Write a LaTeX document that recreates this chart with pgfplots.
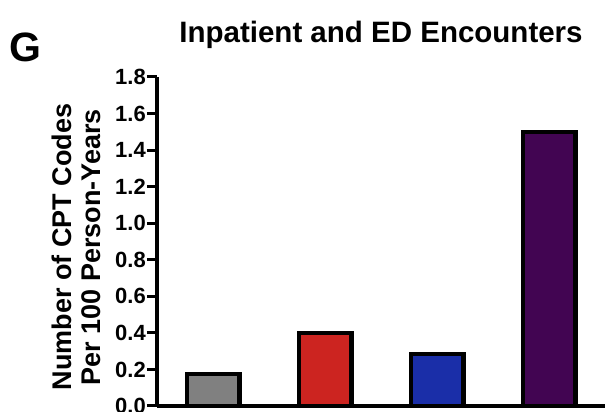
\documentclass[border=0pt]{standalone}
\usepackage{fontspec}
\setmainfont{Liberation Sans}
\usepackage{pgfplots}
\pgfplotsset{compat=1.18}
\definecolor{barGray}{RGB}{128,128,128}
\definecolor{barRed}{RGB}{204,36,32}
\definecolor{barBlue}{RGB}{26,46,168}
\definecolor{barPurple}{RGB}{66,5,82}
\begin{document}
\begin{tikzpicture}[x=1pt,y=1pt]
\begin{axis}[
  at={(157pt,6pt)}, anchor=south west,
  scale only axis, width=448pt, height=329pt,
  xmin=-0.5, xmax=3.5, ymin=0, ymax=1.8,
  axis x line=bottom, axis y line=left,
  axis line style={line width=3.6pt,-},
  xtick=\empty,
  ytick={0,0.2,0.4,0.6,0.8,1.0,1.2,1.4,1.6,1.8},
  tick style={line width=3pt,black},
  major tick length=10pt, tick align=outside,
  y tick label style={font=\fontsize{22}{24}\selectfont\bfseries, inner sep=1pt,
    /pgf/number format/.cd, fixed, fixed zerofill, precision=1, assume math mode=true},
  ylabel={Number of CPT Codes\\Per 100 Person-Years},
  ylabel style={align=center, font=\fontsize{27}{29}\selectfont\bfseries,
    at={(axis description cs:-0.18,0.483)}, anchor=center},
  title={Inpatient and ED Encounters},
  title style={font=\fontsize{29.5}{32}\selectfont\bfseries,
    at={(axis description cs:0.5,1)}, anchor=base, yshift=28pt},
  ybar, bar width=52.5pt,
  every axis plot/.append style={bar shift=0pt, draw=black, line width=4.5pt},
]
\addplot[fill=barGray] coordinates {(0,0.175)};
\addplot[fill=barRed] coordinates {(1,0.40)};
\addplot[fill=barBlue] coordinates {(2,0.285)};
\addplot[fill=barPurple] coordinates {(3,1.50)};
\end{axis}
\node[font=\fontsize{41}{44}\selectfont\bfseries] at (25.5,364.5) {G};
\pgfresetboundingbox
\path (0,0) rectangle (605,412);
\end{tikzpicture}
\end{document}
